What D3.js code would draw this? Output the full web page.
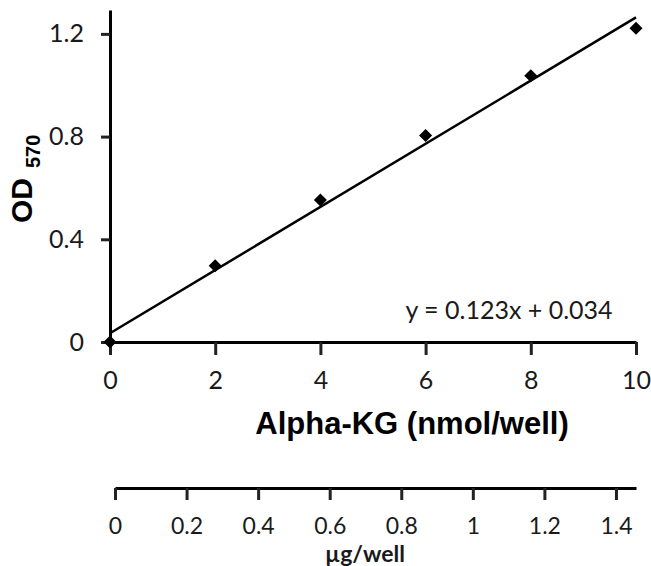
<!DOCTYPE html>
<html>
<head>
<meta charset="utf-8">
<script src="https://cdn.jsdelivr.net/npm/d3@7"></script>
<style>
  body { margin: 0; background: #fff; }
  svg { display: block; }
</style>
</head>
<body>
<script>
// data
var nmol = [0, 2, 4, 6, 8, 10];
var od = [0, 0.297, 0.553, 0.804, 1.037, 1.222];
var fitSlope = 0.123, fitIntercept = 0.034;
var xTicks = [0, 2, 4, 6, 8, 10];
var yTicks = [0, 0.4, 0.8, 1.2];
var ugTicks = [0, 0.2, 0.4, 0.6, 0.8, 1, 1.2, 1.4];

var full_width = 651, full_height = 566;
var tickFont = "Lato, 'Open Sans', sans-serif";
var titleFont = "'Liberation Sans', Arial, sans-serif";

var svg = d3.select("body").append("svg")
  .attr("width", full_width)
  .attr("height", full_height);

// set the ranges
var x = d3.scaleLinear().domain([0, 10]).range([110, 636]);
var y = d3.scaleLinear().domain([0, 1.293]).range([342, 10]);
var xUg = d3.scaleLinear().domain([0, 1.456]).range([115, 636]);

// x axis
var xAxis = svg.append("g")
  .attr("transform", "translate(0," + y(0) + ")")
  .call(d3.axisBottom(x).tickValues(xTicks).tickSize(13).tickSizeOuter(0).tickPadding(16).tickFormat(function(d) { return d; }));

// y axis
var yAxis = svg.append("g")
  .attr("transform", "translate(" + x(0) + ",0)")
  .call(d3.axisLeft(y).tickValues(yTicks).tickSize(9).tickSizeOuter(0).tickPadding(17).tickFormat(function(d) { return d; }));

// second axis in ug/well
var ugAxis = svg.append("g")
  .attr("transform", "translate(0,488)")
  .call(d3.axisBottom(xUg).tickValues(ugTicks).tickSize(12).tickSizeOuter(0).tickPadding(18).tickFormat(function(d) { return d; }));

[xAxis, yAxis, ugAxis].forEach(function(g) {
  g.select(".domain").attr("stroke", "#000").attr("stroke-width", 3);
  g.selectAll(".tick line").attr("stroke", "#222").attr("stroke-width", 3);
  g.selectAll(".tick text")
    .attr("fill", "#1a1a1a")
    .style("font-family", tickFont)
    .style("font-size", "25px");
});
ugAxis.selectAll(".tick text").style("font-size", "23px");

// fitted line
svg.append("line")
  .attr("x1", x(0)).attr("y1", y(fitIntercept))
  .attr("x2", x(10)).attr("y2", y(fitSlope * 10 + fitIntercept))
  .attr("stroke", "#000")
  .attr("stroke-width", 2.5);

// points
svg.selectAll(".pt")
  .data(nmol)
  .enter()
  .append("path")
  .attr("class", "pt")
  .attr("d", d3.symbol().type(d3.symbolSquare).size(85))
  .attr("transform", function(d, i) { return "translate(" + x(d) + "," + y(od[i]) + ") rotate(45)"; })
  .attr("fill", "#000");

// equation
svg.append("text")
  .attr("x", 509)
  .attr("y", 319)
  .attr("text-anchor", "middle")
  .style("font-family", tickFont)
  .style("font-size", "25px")
  .attr("fill", "#1a1a1a")
  .text("y = " + fitSlope + "x + " + fitIntercept);

// axis titles
svg.append("text")
  .attr("x", 412)
  .attr("y", 434)
  .attr("text-anchor", "middle")
  .style("font-family", titleFont)
  .style("font-weight", "700")
  .style("font-size", "31px")
  .attr("fill", "#000")
  .text("Alpha-KG (nmol/well)");

var yTitle = svg.append("text")
  .attr("transform", "translate(32,223) rotate(-90)")
  .style("font-family", titleFont)
  .style("font-weight", "700")
  .attr("fill", "#000");
yTitle.append("tspan").style("font-size", "30px").text("OD");
yTitle.append("tspan").attr("dx", 10).attr("dy", 8).style("font-size", "20px").text("570");

svg.append("text")
  .attr("x", 365)
  .attr("y", 562)
  .attr("text-anchor", "middle")
  .style("font-family", tickFont)
  .style("font-weight", "700")
  .style("font-size", "23px")
  .attr("fill", "#1a1a1a")
  .text("µg/well");
</script>
</body>
</html>
